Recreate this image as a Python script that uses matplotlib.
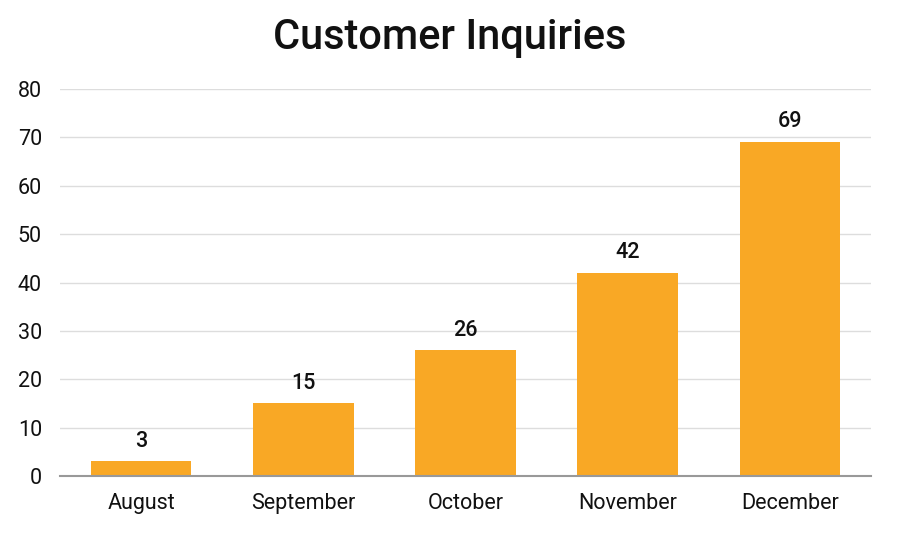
import matplotlib
matplotlib.use('Agg')
import matplotlib.pyplot as plt

months = ['August', 'September', 'October', 'November', 'December']
inquiries = [3, 15, 26, 42, 69]

plt.rcParams['font.family'] = ['Roboto', 'DejaVu Sans']

fig = plt.figure(figsize=(9, 5.4), dpi=100)
ax = fig.add_axes([0.0667, 0.1185, 0.9011, 0.7167])

x = range(len(months))
bars = ax.bar(x, inquiries, width=0.62, color='#F9A825', zorder=3)

for b, v in zip(bars, inquiries):
    ax.annotate(str(v), (b.get_x() + b.get_width() / 2, v), xytext=(0, 7),
                textcoords='offset points', ha='center', va='bottom',
                fontsize=15.5, fontweight='medium', color='#111111')

ax.set_xlim(-0.5, len(months) - 0.5)
ax.set_ylim(0, 80)
ax.set_yticks(range(0, 81, 10))
ax.set_xticks(list(x))
ax.set_xticklabels(months)
ax.tick_params(axis='both', length=0, labelsize=15.5, colors='#111111')
ax.tick_params(axis='y', pad=13)
ax.tick_params(axis='x', pad=12)

ax.grid(axis='y', color='#dddddd', linewidth=1, zorder=0)
for s in ['top', 'right', 'left']:
    ax.spines[s].set_visible(False)
ax.spines['bottom'].set_color('#999999')
ax.spines['bottom'].set_linewidth(1.5)
ax.spines['bottom'].set_zorder(4)

fig.text(0.5, 0.931, 'Customer Inquiries', ha='center', va='center',
         fontsize=30, fontweight='medium', color='#111111')

fig.savefig('out.png', dpi=100, facecolor='white')
